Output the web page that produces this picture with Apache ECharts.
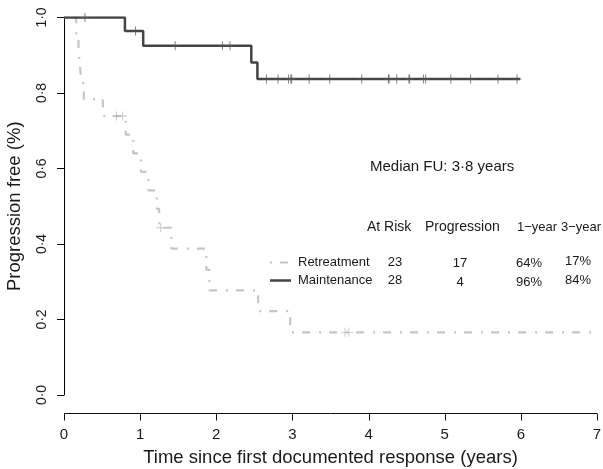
<!DOCTYPE html>
<html>
<head>
<meta charset="UTF-8">
<title>Progression free</title>
<script src="https://cdn.jsdelivr.net/npm/echarts@6/dist/echarts.min.js"></script>
<style>
  body { margin: 0; background: #fff; }
  #main { width: 603px; height: 469px; }
</style>
</head>
<body>
<div id="main"></div>
<script>
// step times (years) and progression-free level after each step
var mainTimes = [0, 0.80, 1.04, 2.46, 2.54, 5.99];
var mainSurv = [1.0, 0.964, 0.925, 0.881, 0.837, 0.837];
var mainCensor = [0.275, 0.94, 1.46, 2.08, 2.18, 2.66, 2.81, 2.95, 2.98, 2.99, 3.22, 3.49,
  3.91, 4.26, 4.27, 4.37, 4.53, 4.54, 4.72, 4.75, 5.08, 5.34, 5.70, 5.95];

var retTimes = [0, 0.16, 0.19, 0.21, 0.23, 0.26, 0.51, 0.81, 0.91, 1.01, 1.11, 1.22, 1.25,
  1.41, 1.87, 1.91, 2.55, 2.97, 7.0];
var retSurv = [1.0, 0.957, 0.913, 0.870, 0.826, 0.783, 0.739, 0.690, 0.640, 0.591, 0.542,
  0.493, 0.443, 0.388, 0.332, 0.277, 0.222, 0.166, 0.166];
var retCensor = [0.69, 0.77, 1.27, 3.69, 3.74];

var xTicks = [0, 1, 2, 3, 4, 5, 6, 7];
var yTicks = [0, 0.2, 0.4, 0.6, 0.8, 1.0];

// table next to the legend
var tableHead = ['At Risk', 'Progression', '1\u2212year', '3\u2212year'];
var groups = ['Retreatment', 'Maintenance'];
var atRisk = ['23', '28'];
var progressions = ['17', '4'];
var oneYear = ['64%', '96%'];
var threeYear = ['17%', '84%'];
var medianFU = 'Median FU: 3\u00b78 years';

var FONT = '"Liberation Sans", Arial, Helvetica, sans-serif';
var DARK = '#444444';
var LIGHT = '#c6c6c6';
var X_OFFSET = 18;

function pairs(xs, ys) {
  return xs.map(function (x, i) { return [x, ys[i]]; });
}
function levelAt(xs, ys, t) {
  var v = ys[0];
  for (var i = 0; i < xs.length; i++) { if (xs[i] <= t) v = ys[i]; }
  return v;
}
function censorPts(cs, xs, ys) {
  return cs.map(function (t) { return [t, levelAt(xs, ys, t)]; });
}
function dotted(v) { return v.toFixed(1).replace('.', '\u00b7'); }

var plus = 'path://M4.5,0h1v10h-1zM0,4.5h10v1h-10z';

var myChart = echarts.init(document.getElementById('main'));

var graphics = [];
function txt(x, y, s, size, align) {
  graphics.push({
    type: 'text', x: x, y: y,
    style: { text: s, font: size + 'px ' + FONT, fill: '#1a1a1a', textAlign: align || 'left', textVerticalAlign: 'middle' }
  });
}
txt(370, 167, medianFU, 15);
var headX = [367, 425, 517, 561];
var headSize = [14, 14, 13, 13];
tableHead.forEach(function (h, i) { txt(headX[i], 227, h, headSize[i]); });
var rowY = [262, 280.5];
groups.forEach(function (g, i) {
  var y = rowY[i];
  txt(298, y, g, 13);
  txt(395, y, atRisk[i], 13, 'center');
  txt(460, y + 1.5, progressions[i], 13, 'center');
  txt(529, y + 1.5, oneYear[i], 13, 'center');
  txt(578, y - 0.5, threeYear[i], 13, 'center');
});
graphics.push({ type: 'line', shape: { x1: 270, y1: 262.5, x2: 291, y2: 262.5 },
  style: { stroke: LIGHT, lineWidth: 2.2, lineDash: [2, 8, 8, 9] } });
graphics.push({ type: 'line', shape: { x1: 270, y1: 280.5, x2: 291, y2: 280.5 },
  style: { stroke: DARK, lineWidth: 2.5 } });

myChart.setOption({
  animation: false,
  grid: { left: 64, right: 6, top: 17.5, bottom: 74, outerBoundsMode: 'none' },
  xAxis: {
    type: 'value', min: 0, max: 7, interval: 1, offset: X_OFFSET,
    name: 'Time since first documented response (years)',
    nameLocation: 'middle', nameGap: 35,
    nameTextStyle: { fontSize: 18.5, fontFamily: FONT, color: '#1a1a1a' },
    axisLine: { show: false },
    axisTick: { show: false },
    axisLabel: { fontSize: 15, fontFamily: FONT, color: '#1a1a1a', margin: 14,
      customValues: xTicks },
    splitLine: { show: false }
  },
  yAxis: {
    type: 'value', min: 0, max: 1, interval: 0.2,
    name: 'Progression free (%)',
    nameLocation: 'middle', nameGap: 40,
    nameTextStyle: { fontSize: 18.5, fontFamily: FONT, color: '#1a1a1a' },
    axisLine: { show: true, lineStyle: { color: '#000', width: 1 } },
    axisTick: { show: true, length: 7, lineStyle: { color: '#000' } },
    axisLabel: { fontSize: 14, fontFamily: FONT, color: '#1a1a1a', rotate: 90, margin: 15,
      formatter: function (v) { return dotted(v); }, customValues: yTicks },
    splitLine: { show: false }
  },
  graphic: graphics,
  series: [
    {
      name: 'Retreatment', type: 'line', step: 'end', symbol: 'none',
      data: pairs(retTimes, retSurv),
      lineStyle: { color: LIGHT, width: 2.2, type: [2, 8, 8, 9] }, z: 2
    },
    {
      name: 'Retreatment censored', type: 'scatter', symbol: plus, symbolSize: 9,
      data: censorPts(retCensor, retTimes, retSurv),
      itemStyle: { color: '#b8b8b8' }, z: 3
    },
    {
      name: 'Maintenance', type: 'line', step: 'end', symbol: 'none',
      data: pairs(mainTimes, mainSurv),
      lineStyle: { color: DARK, width: 2.5 }, z: 4
    },
    {
      name: 'Maintenance censored', type: 'scatter', symbol: plus, symbolSize: 9,
      data: censorPts(mainCensor, mainTimes, mainSurv),
      itemStyle: { color: '#555' }, z: 5
    }
  ]
});

// x axis line and ticks, placed through the chart's own x scale (offset below the plot)
var x0 = myChart.convertToPixel({ xAxisIndex: 0 }, xTicks[0]);
var x1 = myChart.convertToPixel({ xAxisIndex: 0 }, xTicks[xTicks.length - 1]);
var yLine = Math.round(myChart.convertToPixel({ yAxisIndex: 0 }, 0) + X_OFFSET) + 0.5;
var axisBits = [{ type: 'line', shape: { x1: x0, y1: yLine, x2: x1, y2: yLine },
  style: { stroke: '#111', lineWidth: 1 } }];
xTicks.forEach(function (t) {
  var px = Math.round(myChart.convertToPixel({ xAxisIndex: 0 }, t)) + 0.5;
  axisBits.push({ type: 'line', shape: { x1: px, y1: yLine, x2: px, y2: yLine + 7 },
    style: { stroke: '#111', lineWidth: 1 } });
});
myChart.setOption({ graphic: graphics.concat(axisBits) });
</script>
</body>
</html>
